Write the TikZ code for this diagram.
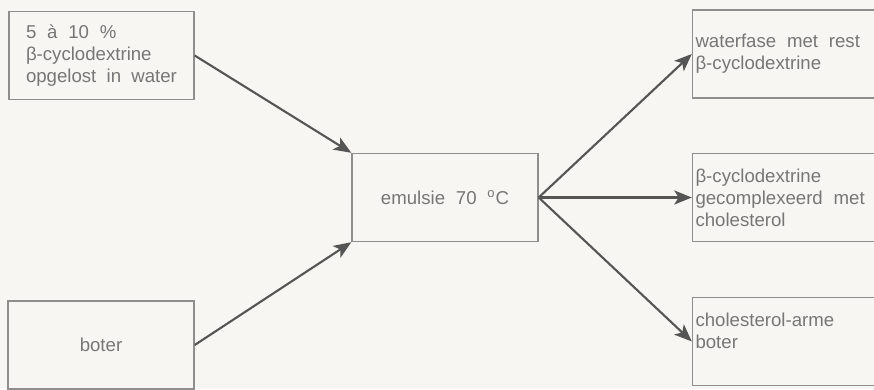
\documentclass[tikz,border=0pt]{standalone}
\usepackage{fontspec}
\setmainfont[WordSpace=2.3]{Liberation Sans}
\usetikzlibrary{arrows.meta}
\definecolor{paper}{HTML}{F7F6F2}
\definecolor{inkgrey}{HTML}{767676}
\definecolor{framegrey}{HTML}{8E8E8E}
\definecolor{arrowgrey}{HTML}{555555}

\begin{document}
\begin{tikzpicture}[
  x=0.02cm, y=-0.02cm,
  box/.style={draw=framegrey, line width=0.8pt, minimum height=1.76cm, align=left,
    text=inkgrey, font=\fontsize{10.6}{12.5}\selectfont,
    execute at begin node={\spaceskip=0.58em plus 0.2em minus 0.15em\relax}},
  inbox/.style={box, text width=3.02cm, inner xsep=0.34cm},
  outbox/.style={box, text width=3.62cm, inner xsep=0.06cm},
  midbox/.style={box, align=center, minimum width=3.72cm},
  arrow/.style={-{Stealth[length=10pt, width=8pt, inset=2.5pt]}, line width=1.2pt, arrowgrey},
]
  % paper and page size
  \fill[paper] (0,0) rectangle (874,389);
  \useasboundingbox (0,0) rectangle (874,389);

  % inputs
  \node[inbox] (solution) at (101.5,55.5) {5 à 10 \%\\β-cyclodextrine\\opgelost in water};
  \node[midbox] (butter) at (101,345) {boter};

  % mixing step
  \node[midbox] (emulsion) at (445,197.5) {emulsie 70 \textsuperscript{o}C};

  % products
  \node[outbox] (waterphase) at (786,54) {waterfase met rest\\β-cyclodextrine};
  \node[outbox] (complex) at (786,197.5) {β-cyclodextrine\\gecomplexeerd met\\cholesterol};
  \node[outbox] (lowbutter) at (786,341.5) {cholesterol-arme\\boter\\ \mbox{}};

  % arrows
  \draw[arrow] (solution.east) -- (emulsion.north west);
  \draw[arrow] (butter.east) -- (emulsion.south west);
  \draw[arrow] (emulsion.east) -- (waterphase.west);
  \draw[arrow] (emulsion.east) -- (complex.west);
  \draw[arrow] (emulsion.east) -- (lowbutter.west);
\end{tikzpicture}
\end{document}
